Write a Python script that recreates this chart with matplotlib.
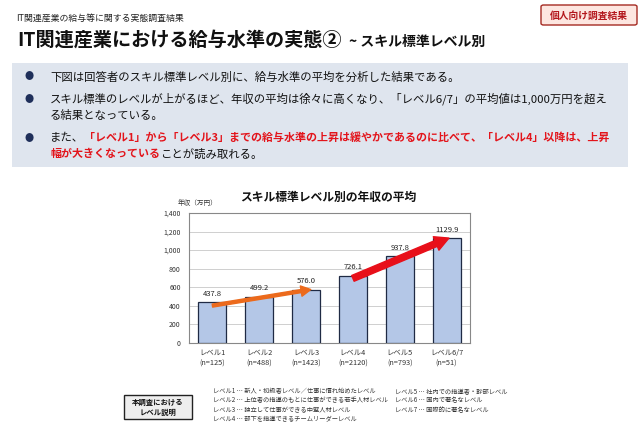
import matplotlib
matplotlib.use("Agg")
import matplotlib.pyplot as plt
from matplotlib.patches import FancyBboxPatch, Rectangle
from matplotlib.ticker import FuncFormatter

plt.rcParams['font.family'] = ['Noto Sans CJK JP', 'DejaVu Sans']

levels = ['レベル1', 'レベル2', 'レベル3', 'レベル4', 'レベル5', 'レベル6/7']
counts = [125, 488, 1423, 2120, 793, 51]
values = [437.8, 499.2, 576.0, 726.1, 937.8, 1129.9]
yticks = [0, 200, 400, 600, 800, 1000, 1200, 1400]

header_small = 'IT関連産業の給与等に関する実態調査結果'
title_main = 'IT関連産業における給与水準の実態②'
title_sub = '~ スキル標準レベル別'
badge = '個人向け調査結果'
chart_title = 'スキル標準レベル別の年収の平均'
yunit = '年収（万円）'

level_desc_left = ['レベル1 … 新人・初級者レベル／仕事に慣れ始めたレベル',
                   'レベル2 … 上位者の指導のもとに仕事ができる若手人材レベル',
                   'レベル3 … 独立して仕事ができる中堅人材レベル',
                   'レベル4 … 部下を指導できるチームリーダーレベル']
level_desc_right = ['レベル5 … 社内での指導者・幹部レベル',
                    'レベル6 … 国内で著名なレベル',
                    'レベル7 … 国際的に著名なレベル']

W, H = 640, 429
fig = plt.figure(figsize=(6.4, 4.29), dpi=100)
fig.patch.set_facecolor('white')

def fx(x):
    return x / W

def fy(y):
    return 1 - y / H

RED = '#e3141b'

# header
fig.text(fx(16), fy(18), header_small, fontsize=6.4, va='center', ha='left', color='#222222')
t1 = fig.text(fx(17), fy(40), title_main, fontsize=13.8, fontweight='bold', va='center', ha='left', color='#111111')
fig.canvas.draw()
r = fig.canvas.get_renderer()
bb = t1.get_window_extent(r)
fig.text(bb.x1 / W + fx(8), fy(42), title_sub, fontsize=10, fontweight='bold', va='center', ha='left', color='#111111')

# badge
fig.patches.append(FancyBboxPatch((fx(541), fy(25)), fx(96), 20 / H,
                                  boxstyle='round,pad=0,rounding_size=0.004',
                                  transform=fig.transFigure, facecolor='#fde6e0',
                                  edgecolor='#a52a22', linewidth=1.0))
fig.text(fx(589), fy(15.5), badge, fontsize=7, fontweight='bold', color='#b3161c',
         ha='center', va='center')

# gray box
fig.patches.append(Rectangle((fx(12), fy(167)), fx(616), 104 / H, transform=fig.transFigure,
                             facecolor='#dfe5ee', edgecolor='none'))
BUL = '#1f2f5a'
ys = [77, 99, 115, 138, 154]
for yb in [ys[0], ys[1], ys[3]]:
    fig.text(fx(29), fy(yb), '●', fontsize=6.5, color=BUL, ha='center', va='center')

fs = 8.2
TX = 50
fig.text(fx(TX), fy(ys[0]), '下図は回答者のスキル標準レベル別に、給与水準の平均を分析した結果である。',
         fontsize=fs, va='center', ha='left', color='#111111')
fig.text(fx(TX), fy(ys[1]), 'スキル標準のレベルが上がるほど、年収の平均は徐々に高くなり、「レベル6/7」の平均値は1,000万円を超え',
         fontsize=fs, va='center', ha='left', color='#111111')
fig.text(fx(TX), fy(ys[2]), 'る結果となっている。', fontsize=fs, va='center', ha='left', color='#111111')

a = fig.text(fx(TX), fy(ys[3]), 'また、', fontsize=fs, va='center', ha='left', color='#111111')
fig.canvas.draw()
bb = a.get_window_extent(r)
fig.text(bb.x1 / W, fy(ys[3]),
         '「レベル1」から「レベル3」までの給与水準の上昇は緩やかであるのに比べて、「レベル4」以降は、上昇',
         fontsize=7.9, fontweight='bold', va='center', ha='left', color=RED)
b = fig.text(fx(TX), fy(ys[4]), '幅が大きくなっている', fontsize=7.9, fontweight='bold',
             va='center', ha='left', color=RED)
fig.canvas.draw()
bb = b.get_window_extent(r)
fig.text(bb.x1 / W, fy(ys[4]), 'ことが読み取れる。', fontsize=fs, va='center', ha='left', color='#111111')

# chart
ax = fig.add_axes([fx(189), fy(343), fx(470 - 189), (343 - 213) / H])
x = list(range(len(values)))
ax.bar(x, values, width=0.6, color='#b4c7e7', edgecolor='#1f2a44', linewidth=0.9, zorder=3)
ax.set_xlim(-0.5, len(values) - 0.5)
ax.set_ylim(0, 1400)
ax.set_yticks(yticks)
ax.yaxis.set_major_formatter(FuncFormatter(lambda v, p: f'{int(v):,}'))
ax.tick_params(axis='y', labelsize=5.0, length=0, pad=6, colors='#333333')
ax.set_xticks(x)
ax.set_xticklabels([f'{l}\n(n={c})' for l, c in zip(levels, counts)], fontsize=5.3, color='#333333',
                   linespacing=1.5)
ax.tick_params(axis='x', length=0, pad=4)
ax.grid(axis='y', color='#c8c8c8', linewidth=0.6, zorder=0)
for s in ax.spines.values():
    s.set_color('#888888')
    s.set_linewidth(0.8)
for xi, v in zip(x, values):
    ax.text(xi, v + 45, f'{v:.1f}', ha='center', va='bottom', fontsize=5.5, color='#222222', zorder=5)

ax.annotate('', xy=(2.1, values[2]), xytext=(0, values[0] - 35),
            arrowprops=dict(arrowstyle='simple,head_length=0.7,head_width=0.75,tail_width=0.22',
                            color='#ec6a1c', mutation_scale=10, shrinkA=0, shrinkB=0), zorder=6)
ax.annotate('', xy=(5.05, values[5]), xytext=(3, values[3] - 30),
            arrowprops=dict(arrowstyle='simple,head_length=1.0,head_width=1.05,tail_width=0.45',
                            color='#e8101a', mutation_scale=10, shrinkA=0, shrinkB=0), zorder=6)

fig.text(fx(328), fy(197), chart_title, fontsize=8.5, fontweight='bold', ha='center', va='center',
         color='#111111')
fig.text(fx(178), fy(203), yunit, fontsize=4.8, ha='left', va='center', color='#333333')

# level description
fig.patches.append(Rectangle((fx(124), fy(419)), fx(68), 24 / H, transform=fig.transFigure,
                             facecolor='#eeeeee', edgecolor='#222222', linewidth=1.0))
fig.text(fx(158), fy(407.5), '本調査における\nレベル説明', fontsize=5.3, fontweight='bold', ha='center',
         va='center', linespacing=1.4, color='#111111')
for i, s in enumerate(level_desc_left):
    fig.text(fx(213), fy(391 + i * 9.5), s, fontsize=4.5, ha='left', va='center', color='#333333')
for i, s in enumerate(level_desc_right):
    fig.text(fx(395), fy(391 + i * 9.5), s, fontsize=4.5, ha='left', va='center', color='#333333')

fig.savefig('out.png', dpi=100)
